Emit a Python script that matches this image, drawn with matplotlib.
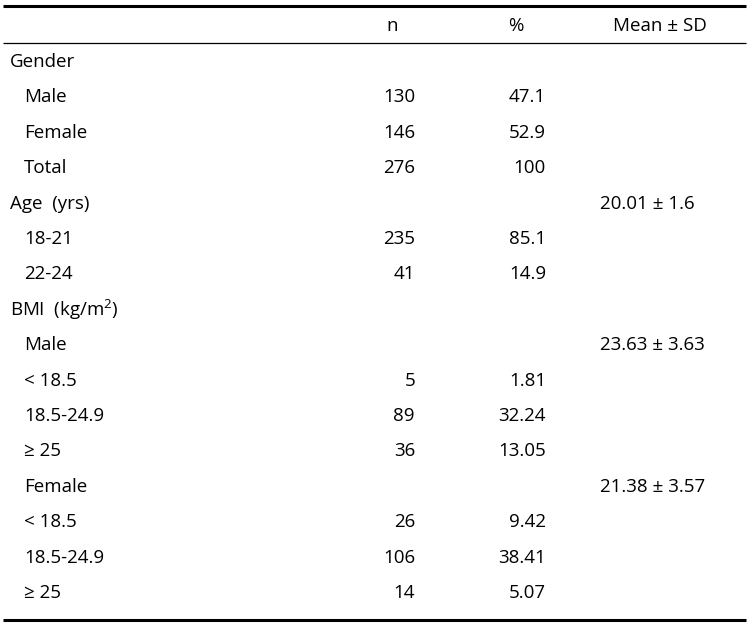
import matplotlib
matplotlib.use("Agg")
import matplotlib.pyplot as plt

plt.rcParams["font.family"] = ["Open Sans", "DejaVu Sans"]
plt.rcParams["mathtext.fontset"] = "custom"
plt.rcParams["mathtext.rm"] = "Open Sans"
plt.rcParams["mathtext.it"] = "Open Sans:italic"

# ── Table content ──────────────────────────────────────────────────────────
headers = ["n", "%", "Mean ± SD"]
labels = ["Gender", "Male", "Female", "Total",
          "Age  (yrs)", "18-21", "22-24",
          "BMI  (kg/m$^2$)", "Male", "< 18.5", "18.5-24.9", "≥ 25",
          "Female", "< 18.5", "18.5-24.9", "≥ 25"]
indent = [0, 1, 1, 1, 0, 1, 1, 0, 1, 1, 1, 1, 1, 1, 1, 1]
n_vals = ["", "130", "146", "276", "", "235", "41", "", "", "5", "89", "36",
          "", "26", "106", "14"]
pct_vals = ["", "47.1", "52.9", "100", "", "85.1", "14.9", "", "", "1.81",
            "32.24", "13.05", "", "9.42", "38.41", "5.07"]
mean_sd = ["", "", "", "", "20.01 ± 1.6", "", "", "", "23.63 ± 3.63", "", "",
           "", "21.38 ± 3.57", "", "", ""]

W, H = 752, 627
fig = plt.figure(figsize=(W / 100, H / 100), dpi=100)
ax = fig.add_axes([0, 0, 1, 1])
ax.set_xlim(0, W)
ax.set_ylim(H, 0)
ax.axis("off")

fs = 13.5
# rules
ax.plot([3, 746], [6, 6], color="black", lw=2.2, solid_capstyle="butt")
ax.plot([3, 746], [43, 43], color="black", lw=0.9, solid_capstyle="butt")
ax.plot([3, 746], [620, 620], color="black", lw=2.2, solid_capstyle="butt")

# header
ax.text(392, 26, headers[0], ha="center", va="center", fontsize=fs)
ax.text(516, 26, headers[1], ha="center", va="center", fontsize=fs)
ax.text(660, 26, headers[2], ha="center", va="center", fontsize=fs)

y0, dy = 62, 35.4
for i, lab in enumerate(labels):
    y = y0 + i * dy
    ax.text(10 + 14 * indent[i], y, lab, ha="left", va="center", fontsize=fs)
    ax.text(415, y, n_vals[i], ha="right", va="center", fontsize=fs)
    ax.text(546, y, pct_vals[i], ha="right", va="center", fontsize=fs)
    ax.text(600, y, mean_sd[i], ha="left", va="center", fontsize=fs)

fig.savefig("out.png", dpi=100)
